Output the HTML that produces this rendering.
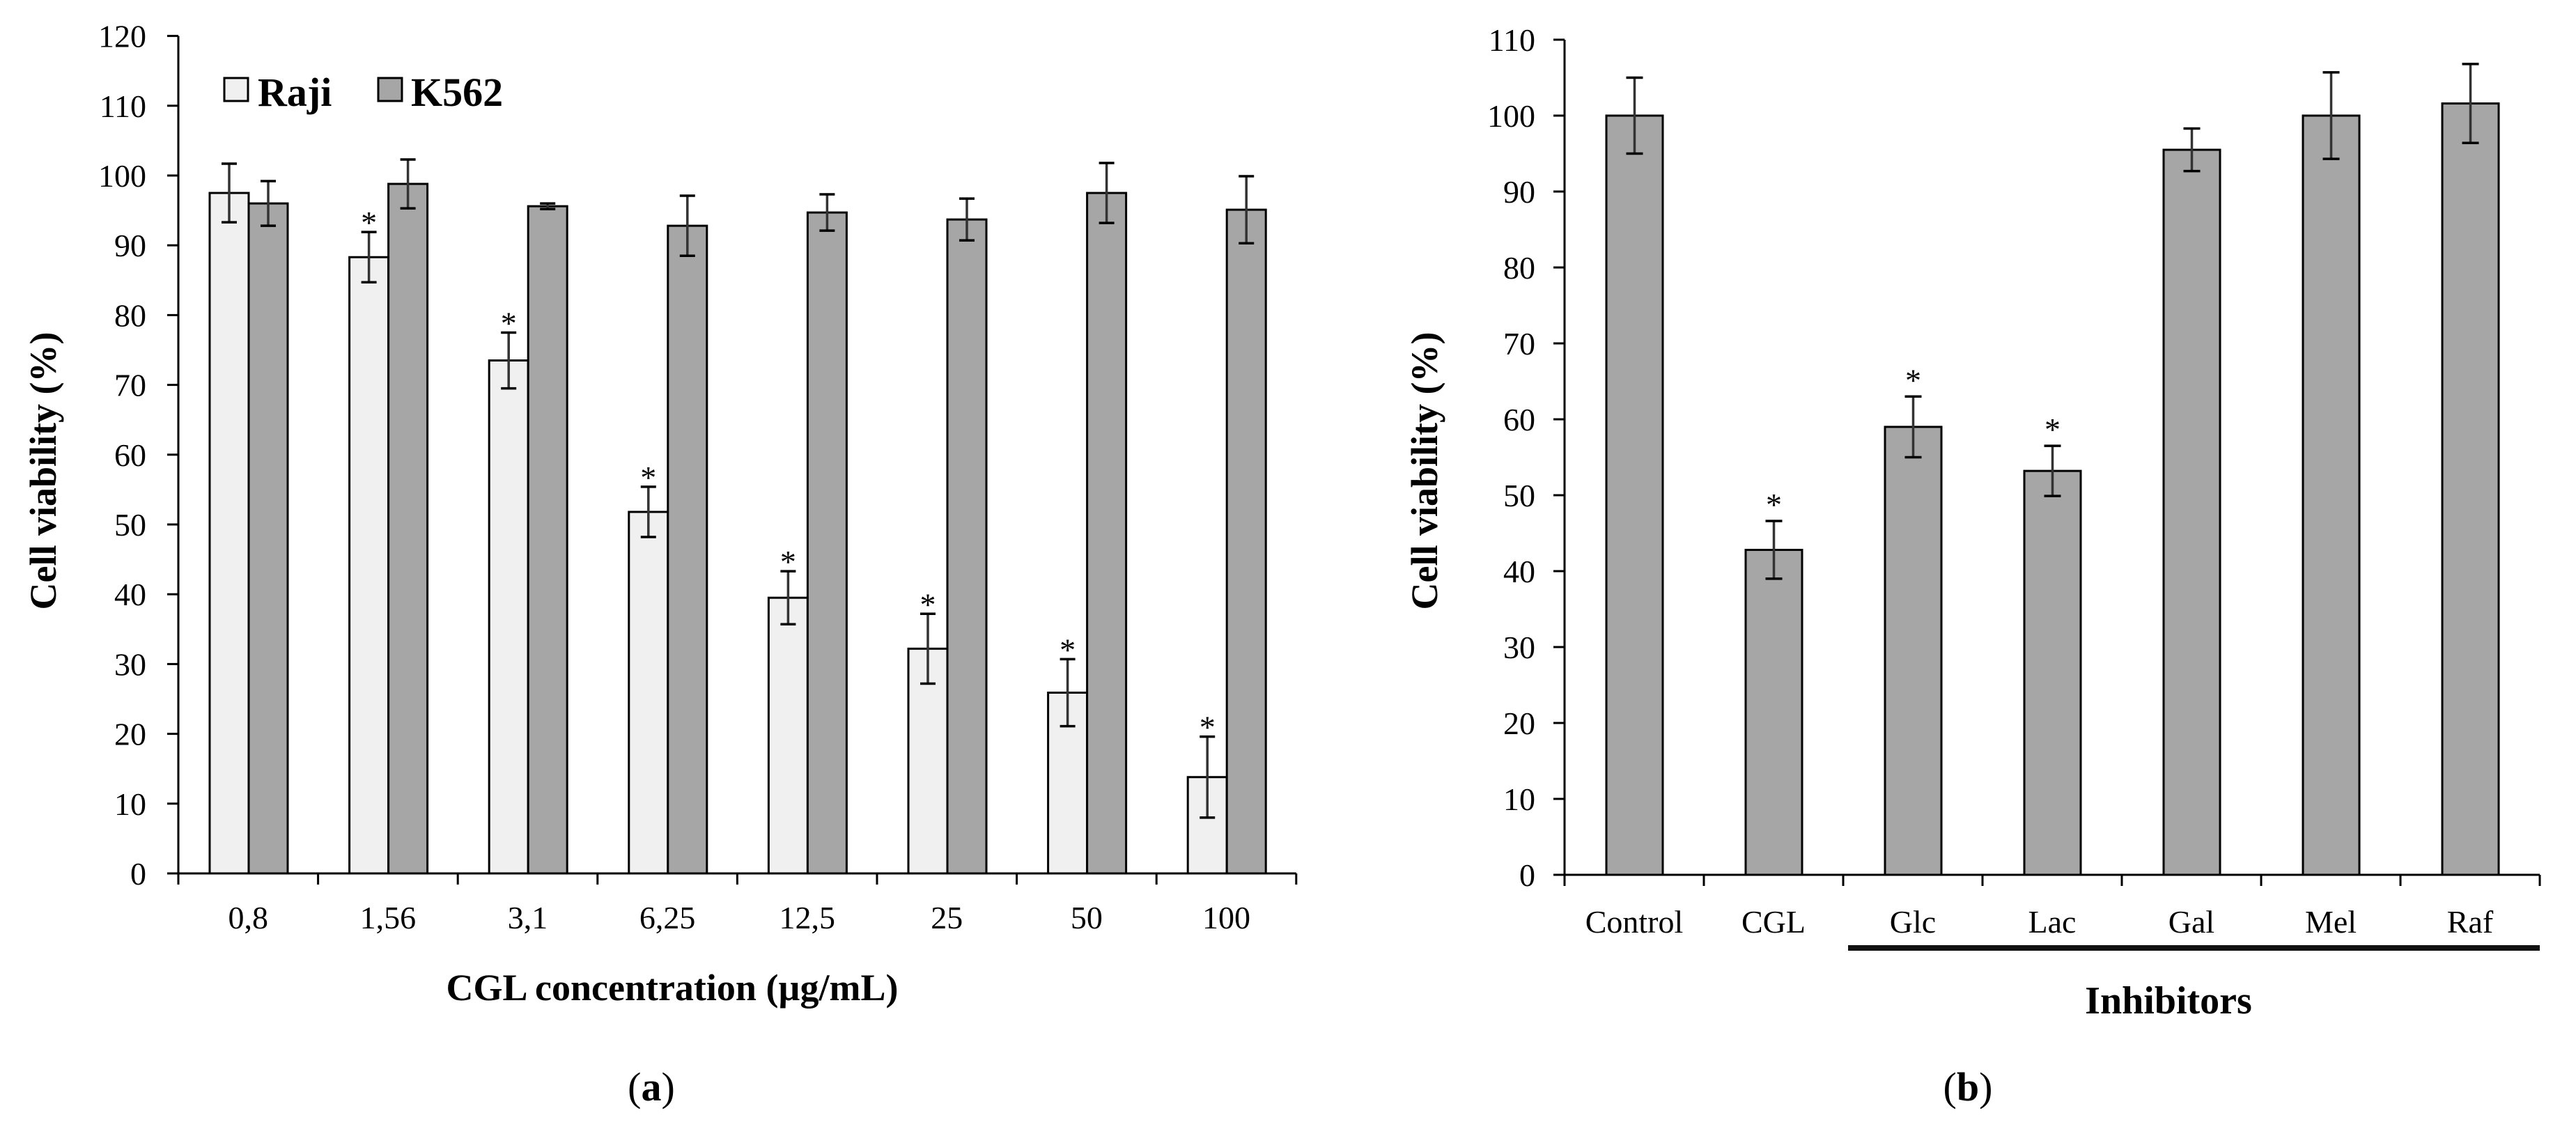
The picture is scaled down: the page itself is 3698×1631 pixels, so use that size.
<!DOCTYPE html>
<html><head><meta charset="utf-8"><style>
html,body{margin:0;padding:0;background:#fff;}
svg{display:block;font-family:"Liberation Serif",serif;}
</style></head><body>
<svg id="fig" width="3698" height="1631" viewBox="0 0 3698 1631" xmlns="http://www.w3.org/2000/svg">
<g id="pa"></g>
<g id="pb"></g>
</svg>
<script>
const aCategories = ["0,8","1,56","3,1","6,25","12,5","25","50","100"];
const aRaji = [97.5, 88.3, 73.5, 51.8, 39.5, 32.2, 25.9, 13.8];
const aRajiErr = [4.2, 3.6, 4.0, 3.6, 3.8, 5.0, 4.8, 5.8];
const aRajiSig = [false, true, true, true, true, true, true, true];
const aK562 = [96.0, 98.8, 95.6, 92.8, 94.7, 93.7, 97.5, 95.1];
const aK562Err = [3.2, 3.5, 0.4, 4.3, 2.6, 3.0, 4.3, 4.8];
const aTicks = [0,10,20,30,40,50,60,70,80,90,100,110,120];

const bCategories = ["Control","CGL","Glc","Lac","Gal","Mel","Raf"];
const bValues = [100, 42.8, 59.0, 53.2, 95.5, 100, 101.6];
const bErr = [5.0, 3.8, 4.0, 3.3, 2.8, 5.7, 5.2];
const bSig = [false, true, true, true, false, false, false];
const bTicks = [0,10,20,30,40,50,60,70,80,90,100,110];

const NS = "http://www.w3.org/2000/svg";
function mk(parent, tag, attrs, text){
  const e = document.createElementNS(NS, tag);
  for (const k in attrs) e.setAttribute(k, attrs[k]);
  if (text !== undefined) e.textContent = text;
  parent.appendChild(e);
  return e;
}

/* ---------- Panel A ---------- */
(function(){
  const g = document.getElementById('pa');
  const x0 = 256, y0 = 1254, per = 100.2 / 10, gw = 200.6;
  const yS = v => y0 - v * per;
  const bw = 56, off = 45;
  // y ticks + labels
  aTicks.forEach(t => {
    const tk = mk(g, 'line', {x1: x0 - 16, x2: x0, y1: yS(t), y2: yS(t), stroke: '#000', 'stroke-width': 3});
    
    
    const lb = mk(g, 'text', {x: 210, y: yS(t) + 16, 'text-anchor': 'end', 'font-size': 46}, String(t));
    
    
  });
  aCategories.forEach((c, i) => {
    const gx = x0 + i * gw;
    const r = mk(g, 'rect', {x: gx + off, y: yS(aRaji[i]), width: bw, height: aRaji[i] * per, fill: '#f0f0f0', stroke: '#000', 'stroke-width': 3});
    
    
    const k = mk(g, 'rect', {x: gx + off + bw, y: yS(aK562[i]), width: bw, height: aK562[i] * per, fill: '#a6a6a6', stroke: '#000', 'stroke-width': 3});
    
    
    [[gx + off + bw / 2, aRaji[i], aRajiErr[i]], [gx + off + bw * 1.5, aK562[i], aK562Err[i]]].forEach(([cx, v, e]) => {
      const eg = mk(g, 'g', {stroke: '#333', 'stroke-width': 3.5});
      
      
      mk(eg, 'line', {x1: cx, x2: cx, y1: yS(v + e), y2: yS(v - e)});
      mk(eg, 'line', {x1: cx - 11, x2: cx + 11, y1: yS(v + e), y2: yS(v + e), stroke: '#000'});
      mk(eg, 'line', {x1: cx - 11, x2: cx + 11, y1: yS(v - e), y2: yS(v - e), stroke: '#000'});
    });
    if (aRajiSig[i]) {
      const s = mk(g, 'text', {x: gx + off + bw / 2, y: yS(aRaji[i] + aRajiErr[i]) + 2, 'text-anchor': 'middle', 'font-size': 46}, '*');
      
      
    }
    const xt = mk(g, 'line', {x1: gx, x2: gx, y1: y0, y2: y0 + 16, stroke: '#000', 'stroke-width': 3});
    
    
    const xl = mk(g, 'text', {x: gx + gw / 2, y: 1333, 'text-anchor': 'middle', 'font-size': 46}, c);
    
    
  });
  const xe = x0 + aCategories.length * gw;
  mk(g, 'line', {x1: xe, x2: xe, y1: y0, y2: y0 + 16, stroke: '#000', 'stroke-width': 3});
  const ax = mk(g, 'line', {x1: x0, x2: xe, y1: y0, y2: y0, stroke: '#000', 'stroke-width': 3});
  
  
  const ay = mk(g, 'line', {x1: x0, x2: x0, y1: yS(120), y2: y0, stroke: '#000', 'stroke-width': 3});
  
  
})();

/* ---------- Panel B ---------- */
(function(){
  const g = document.getElementById('pb');
  const x0 = 2246, y0 = 1256, per = 109 / 10, gw = 200;
  const yS = v => y0 - v * per;
  const bw = 81, off = 60;
  bTicks.forEach(t => {
    const tk = mk(g, 'line', {x1: x0 - 16, x2: x0, y1: yS(t), y2: yS(t), stroke: '#000', 'stroke-width': 3});
    
    
    const lb = mk(g, 'text', {x: 2204, y: yS(t) + 16, 'text-anchor': 'end', 'font-size': 46}, String(t));
    
    
  });
  bCategories.forEach((c, i) => {
    const gx = x0 + i * gw;
    const v = bValues[i], e = bErr[i], cx = gx + off + bw / 2;
    const r = mk(g, 'rect', {x: gx + off, y: yS(v), width: bw, height: v * per, fill: '#a6a6a6', stroke: '#000', 'stroke-width': 3});
    
    
    const eg = mk(g, 'g', {stroke: '#333', 'stroke-width': 3.5});
    
    
    mk(eg, 'line', {x1: cx, x2: cx, y1: yS(v + e), y2: yS(v - e)});
    mk(eg, 'line', {x1: cx - 12, x2: cx + 12, y1: yS(v + e), y2: yS(v + e), stroke: '#000'});
    mk(eg, 'line', {x1: cx - 12, x2: cx + 12, y1: yS(v - e), y2: yS(v - e), stroke: '#000'});
    if (bSig[i]) {
      const s = mk(g, 'text', {x: cx, y: yS(v + e) - 8, 'text-anchor': 'middle', 'font-size': 46}, '*');
      
      
    }
    const xt = mk(g, 'line', {x1: gx, x2: gx, y1: y0, y2: y0 + 16, stroke: '#000', 'stroke-width': 3});
    
    
    const xl = mk(g, 'text', {x: gx + gw / 2, y: 1339, 'text-anchor': 'middle', 'font-size': 46}, c);
    
    
  });
  const xe = x0 + bCategories.length * gw;
  mk(g, 'line', {x1: xe, x2: xe, y1: y0, y2: y0 + 16, stroke: '#000', 'stroke-width': 3});
  const ax = mk(g, 'line', {x1: x0, x2: xe, y1: y0, y2: y0, stroke: '#000', 'stroke-width': 3});
  
  
  const ay = mk(g, 'line', {x1: x0, x2: x0, y1: yS(110), y2: y0, stroke: '#000', 'stroke-width': 3});
  
  
  const ul = mk(g, 'rect', {x: 2653, y: 1357, width: xe - 2653, height: 8, fill: '#111'});
  
  
})();
</script>
<svg style="position:absolute;left:0;top:0" width="3698" height="1631" viewBox="0 0 3698 1631" xmlns="http://www.w3.org/2000/svg" font-family="Liberation Serif, serif">
  <rect x="322" y="112" width="34" height="33" fill="#f0f0f0" stroke="#000" stroke-width="3"/>
  <text x="370" y="152" font-size="58" font-weight="bold">Raji</text>
  <rect x="543" y="112" width="34" height="33" fill="#a6a6a6" stroke="#000" stroke-width="3"/>
  <text x="590" y="152" font-size="58" font-weight="bold">K562</text>
  <text transform="translate(80,676) rotate(-90)" text-anchor="middle" font-size="54" font-weight="bold">Cell viability (%)</text>
  <text x="965" y="1436" text-anchor="middle" font-size="54" font-weight="bold">CGL concentration (µg/mL)</text>
  <text x="935" y="1580" text-anchor="middle" font-size="58">(<tspan font-weight="bold">a</tspan>)</text>
  <text transform="translate(2063,676) rotate(-90)" text-anchor="middle" font-size="54" font-weight="bold">Cell viability (%)</text>
  <text x="3113" y="1455" text-anchor="middle" font-size="56" font-weight="bold">Inhibitors</text>
  <text x="2825" y="1580" text-anchor="middle" font-size="58">(<tspan font-weight="bold">b</tspan>)</text>
</svg>
</body></html>
